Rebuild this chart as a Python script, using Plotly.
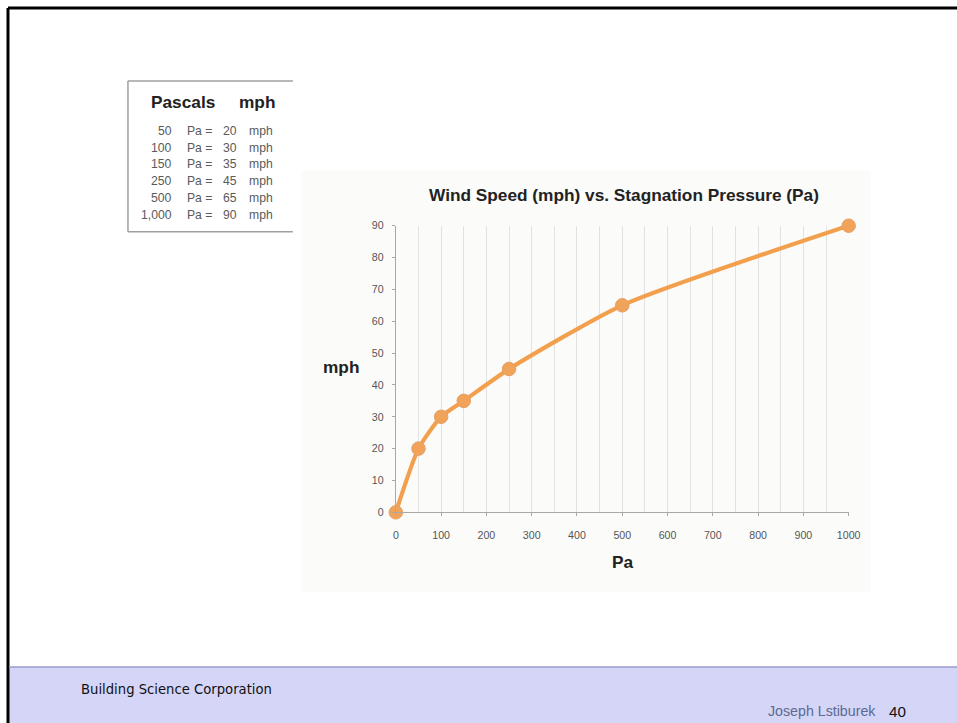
import plotly.graph_objects as go

# Data
pascals = [0, 50, 100, 150, 250, 500, 1000]
mph = [0, 20, 30, 35, 45, 65, 90]

table_pa = ["50", "100", "150", "250", "500", "1,000"]
table_mph = ["20", "30", "35", "45", "65", "90"]

# mapping from reference pixel space to figure paper fractions
S, OX, OY = 0.985, 2.0, 5.0
FW, FH = 975, 735


def px(x):
    return (x - OX) / S / FW


def py(y):
    return 1 - (y - OY) / S / FH


def fs(s):
    return s / S


fig = go.Figure()

fig.add_trace(go.Scatter(
    x=pascals, y=mph,
    mode="lines+markers",
    line=dict(color="#F3A04E", width=4.2, shape="spline", smoothing=0.6),
    marker=dict(size=13.5, color="#F2A35A", line=dict(color="#E3A068", width=1)),
    cliponaxis=False,
    hoverinfo="x+y",
))

BX = 7  # slide border position
shapes = []
# slide border (top, left)
shapes.append(dict(type="line", xref="paper", yref="paper",
                   x0=px(BX), x1=1, y0=py(BX), y1=py(BX),
                   line=dict(color="black", width=3)))
shapes.append(dict(type="line", xref="paper", yref="paper",
                   x0=px(BX), x1=px(BX), y0=py(BX), y1=0,
                   line=dict(color="black", width=3)))
# chart image background
shapes.append(dict(type="rect", xref="paper", yref="paper",
                   x0=px(300), x1=px(870), y0=py(592), y1=py(170),
                   fillcolor="#FBFBFA", line=dict(width=0), layer="below"))
# table box (left, top, bottom)
shapes.append(dict(type="line", xref="paper", yref="paper",
                   x0=px(127), x1=px(292), y0=py(80), y1=py(80),
                   line=dict(color="#A0A0A0", width=1.5)))
shapes.append(dict(type="line", xref="paper", yref="paper",
                   x0=px(127), x1=px(127), y0=py(80), y1=py(231),
                   line=dict(color="#A0A0A0", width=1.5)))
shapes.append(dict(type="line", xref="paper", yref="paper",
                   x0=px(127), x1=px(292), y0=py(231), y1=py(231),
                   line=dict(color="#A0A0A0", width=1.5)))
# footer band
shapes.append(dict(type="rect", xref="paper", yref="paper",
                   x0=px(BX + 1), x1=1, y0=0, y1=py(667),
                   fillcolor="#D5D5F8", line=dict(width=0), layer="below"))
shapes.append(dict(type="line", xref="paper", yref="paper",
                   x0=px(BX + 1), x1=1, y0=py(667), y1=py(667),
                   line=dict(color="#9A9AD0", width=1.5)))

annotations = []
HF = "Liberation Sans"
# table header
annotations.append(dict(xref="paper", yref="paper", x=px(148), y=py(101),
                        text="<b>Pascals</b>", showarrow=False,
                        font=dict(family=HF, size=fs(17), color="#222"),
                        xanchor="left", yanchor="middle"))
annotations.append(dict(xref="paper", yref="paper", x=px(276), y=py(101),
                        text="<b>mph</b>", showarrow=False,
                        font=dict(family=HF, size=fs(17), color="#222"),
                        xanchor="right", yanchor="middle"))
row_y0 = 130
row_dy = 16.8
rf = dict(family=HF, size=fs(12), color="#5A5A5A")
for i, (pa, mp) in enumerate(zip(table_pa, table_mph)):
    yy = py(row_y0 + i * row_dy)
    annotations.append(dict(xref="paper", yref="paper", x=px(173), y=yy,
                            text=pa, showarrow=False, xanchor="right", yanchor="middle",
                            font=rf))
    annotations.append(dict(xref="paper", yref="paper", x=px(184), y=yy,
                            text="Pa =", showarrow=False, xanchor="left", yanchor="middle",
                            font=rf))
    annotations.append(dict(xref="paper", yref="paper", x=px(238), y=yy,
                            text=mp, showarrow=False, xanchor="right", yanchor="middle",
                            font=rf))
    annotations.append(dict(xref="paper", yref="paper", x=px(246), y=yy,
                            text="mph", showarrow=False, xanchor="left", yanchor="middle",
                            font=rf))

# chart title
annotations.append(dict(xref="paper", yref="paper", x=px(623), y=py(194),
                        text="<b>Wind Speed (mph) vs. Stagnation Pressure (Pa)</b>",
                        showarrow=False, xanchor="center", yanchor="middle",
                        font=dict(family=HF, size=fs(17), color="#222")))
# axis titles
annotations.append(dict(xref="paper", yref="paper", x=px(340), y=py(366),
                        text="<b>mph</b>", showarrow=False, xanchor="center", yanchor="middle",
                        font=dict(family=HF, size=fs(17), color="#222")))
annotations.append(dict(xref="paper", yref="paper", x=px(622), y=py(562),
                        text="<b>Pa</b>", showarrow=False, xanchor="center", yanchor="middle",
                        font=dict(family=HF, size=fs(17), color="#222")))
# footer
annotations.append(dict(xref="paper", yref="paper", x=px(78), y=py(689),
                        text="Building Science Corporation", showarrow=False,
                        xanchor="left", yanchor="middle",
                        font=dict(family="DejaVu Sans", size=fs(13), color="#111")))
annotations.append(dict(xref="paper", yref="paper", x=px(877), y=py(711),
                        text="Joseph Lstiburek", showarrow=False,
                        xanchor="right", yanchor="middle",
                        font=dict(family="Liberation Sans Narrow, Liberation Sans", size=fs(14), color="#5A6A90")))
annotations.append(dict(xref="paper", yref="paper", x=px(886), y=py(711),
                        text="40", showarrow=False,
                        xanchor="left", yanchor="middle",
                        font=dict(family="Liberation Sans Narrow, Liberation Sans", size=fs(15), color="#111")))

fig.update_layout(
    width=FW, height=FH,
    margin=dict(l=0, r=0, t=0, b=0),
    paper_bgcolor="white",
    plot_bgcolor="rgba(0,0,0,0)",
    showlegend=False,
    shapes=shapes,
    annotations=annotations,
    xaxis=dict(
        domain=[px(395), px(848)],
        range=[0, 1000],
        dtick=100, tick0=0,
        showgrid=True, gridcolor="#E2E2E2", gridwidth=1,
        minor=dict(dtick=50, showgrid=True, gridcolor="#E2E2E2", gridwidth=1),
        showline=True, linecolor="#A8A8A8", linewidth=1,
        ticks="outside", ticklen=3, tickcolor="#A8A8A8",
        ticklabelstandoff=10,
        tickfont=dict(family=HF, size=fs(10.5), color="#555"),
        zeroline=False, fixedrange=True,
    ),
    yaxis=dict(
        domain=[py(512), py(225)],
        range=[0, 90],
        dtick=10, tick0=0,
        showgrid=False,
        showline=True, linecolor="#A8A8A8", linewidth=1,
        ticks="outside", ticklen=3, tickcolor="#A8A8A8",
        ticklabelstandoff=6,
        tickfont=dict(family=HF, size=fs(10.5), color="#555"),
        zeroline=False, fixedrange=True,
    ),
)

post = (
    "document.documentElement.style.margin='0';"
    "document.documentElement.style.padding='0';"
    "document.documentElement.style.overflow='hidden';"
    "document.body.style.margin='0';"
    "document.body.style.padding='0';"
    "document.body.style.overflow='hidden';"
)

fig.write_html(
    "out.html",
    config={"displayModeBar": False},
    post_script=post,
)
